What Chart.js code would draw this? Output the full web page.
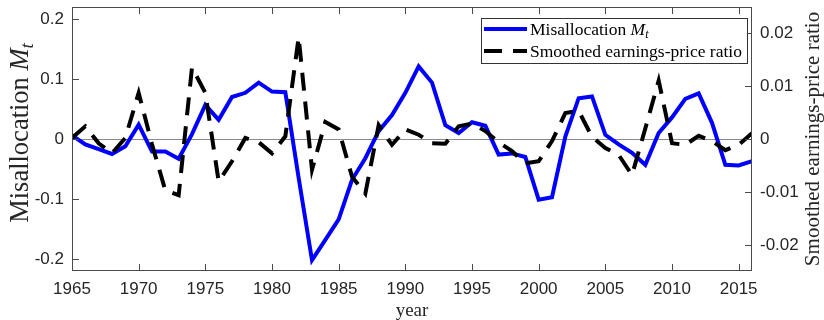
<!DOCTYPE html>
<html lang="en">
<head>
<meta charset="UTF-8">
<title>Misallocation and smoothed earnings-price ratio</title>
<script src="https://cdn.jsdelivr.net/npm/chart.js@4"></script>
<style>
  html, body { margin: 0; padding: 0; background: #fff; }
</style>
</head>
<body>
<canvas id="misChart" width="824" height="320"></canvas>

<script>
// annual series, 1965-2016
const years = [
  1965, 1966, 1967, 1968, 1969, 1970, 1971, 1972, 1973, 1974,
  1975, 1976, 1977, 1978, 1979, 1980, 1981, 1982, 1983, 1984,
  1985, 1986, 1987, 1988, 1989, 1990, 1991, 1992, 1993, 1994,
  1995, 1996, 1997, 1998, 1999, 2000, 2001, 2002, 2003, 2004,
  2005, 2006, 2007, 2008, 2009, 2010, 2011, 2012, 2013, 2014,
  2015, 2016
];

// misallocation M_t (left axis)
const misallocation = [
  0.006, -0.009, -0.017, -0.025, -0.012, 0.024, -0.021, -0.021, -0.033, 0.008,
  0.057, 0.032, 0.070, 0.077, 0.094, 0.079, 0.078, -0.065, -0.202, -0.168,
  -0.134, -0.068, -0.032, 0.013, 0.040, 0.077, 0.121, 0.094, 0.023, 0.010,
  0.028, 0.022, -0.026, -0.024, -0.030, -0.101, -0.097, 0.004, 0.068, 0.071,
  0.007, -0.009, -0.023, -0.043, 0.010, 0.036, 0.067, 0.076, 0.027, -0.043,
  -0.044, -0.037
];

// smoothed earnings-price ratio (right axis)
const epRatio = [
  0.0002, 0.0024, -0.0008, -0.0027, 0.0002, 0.0087, -0.0010, -0.0097, -0.0106, 0.0135,
  0.0087, -0.0080, -0.0042, 0.0002, -0.0006, -0.0027, 0.0005, 0.0192, -0.0058, 0.0032,
  0.0018, -0.0071, -0.0103, 0.0026, -0.0011, 0.0018, 0.0008, -0.0008, -0.0009, 0.0024,
  0.0029, 0.0015, -0.0006, -0.0023, -0.0046, -0.0042, -0.0004, 0.0049, 0.0053, 0.0004,
  -0.0017, -0.0030, -0.0068, 0.0020, 0.0110, -0.0008, -0.0011, 0.0006, -0.0004, -0.0021,
  -0.0011, 0.0011
];

const yearTicks = [1965, 1970, 1975, 1980, 1985, 1990, 1995, 2000, 2005, 2010, 2015];
const misTicks = [-0.2, -0.1, 0, 0.1, 0.2];
const epTicks = [-0.02, -0.01, 0, 0.01, 0.02];

const SANS = '"Liberation Sans", Arial, sans-serif';
const SERIF = '"Liberation Serif", "Times New Roman", serif';
const TEXT = '#262626';
const AXIS = '#4a4a4a';

// "Misallocation M_t" with italic M and subscript t
function mtParts(size) {
  return [
    { text: 'Misallocation ', font: size + 'px ' + SERIF, dy: 0 },
    { text: 'M', font: 'italic ' + size + 'px ' + SERIF, dy: 0 },
    { text: 't', font: 'italic ' + Math.round(size * 0.7) + 'px ' + SERIF, dy: size * 0.2 }
  ];
}

function drawParts(ctx, parts, x, y, align) {
  let total = 0;
  parts.forEach(p => { ctx.font = p.font; p.w = ctx.measureText(p.text).width; total += p.w; });
  let cx = align === 'center' ? x - total / 2 : x;
  ctx.textAlign = 'left';
  parts.forEach(p => { ctx.font = p.font; ctx.fillText(p.text, cx, y + p.dy); cx += p.w; });
}

const frame = {
  id: 'frame',
  beforeDatasetsDraw(chart) {
    const { ctx, chartArea: a, scales } = chart;
    const y0 = Math.round(scales.y.getPixelForValue(0)) + 0.5;
    ctx.save();
    ctx.strokeStyle = '#8a8a8a';
    ctx.lineWidth = 1;
    ctx.beginPath();
    ctx.moveTo(a.left, y0);
    ctx.lineTo(a.right, y0);
    ctx.stroke();
    ctx.restore();
  },
  afterDatasetsDraw(chart) {
    const { ctx, chartArea: a, scales } = chart;
    const tl = 7;
    ctx.save();
    ctx.strokeStyle = AXIS;
    ctx.lineWidth = 1;
    ctx.strokeRect(a.left + 0.5, a.top + 0.5, a.right - a.left - 1, a.bottom - a.top - 1);

    // inward tick marks
    ctx.beginPath();
    yearTicks.forEach(v => {
      const px = Math.round(scales.x.getPixelForValue(v)) + 0.5;
      ctx.moveTo(px, a.bottom); ctx.lineTo(px, a.bottom - tl);
      ctx.moveTo(px, a.top); ctx.lineTo(px, a.top + tl);
    });
    misTicks.forEach(v => {
      const py = Math.round(scales.y.getPixelForValue(v)) + 0.5;
      ctx.moveTo(a.left, py); ctx.lineTo(a.left + tl, py);
    });
    epTicks.forEach(v => {
      const py = Math.round(scales.y1.getPixelForValue(v)) + 0.5;
      ctx.moveTo(a.right, py); ctx.lineTo(a.right - tl, py);
    });
    ctx.stroke();

    // legend box
    const bw = 266, bh = 45;
    const bx = a.right - 5 - bw, by = a.top + 11;
    ctx.fillStyle = '#fff';
    ctx.fillRect(bx, by, bw, bh);
    ctx.strokeStyle = '#333';
    ctx.strokeRect(bx + 0.5, by + 0.5, bw, bh);

    const rows = [by + 11, by + 33];
    chart.data.datasets.forEach((ds, i) => {
      const ry = rows[i];
      ctx.beginPath();
      ctx.strokeStyle = ds.borderColor;
      ctx.lineWidth = ds.borderWidth;
      ctx.setLineDash(ds.borderDash || []);
      ctx.moveTo(bx + 3, ry);
      ctx.lineTo(bx + 46, ry);
      ctx.stroke();
      ctx.setLineDash([]);
      ctx.fillStyle = '#000';
      ctx.textBaseline = 'alphabetic';
      if (i === 0) {
        drawParts(ctx, mtParts(17.5), bx + 49, ry + 5.5, 'left');
      } else {
        ctx.font = '17.5px ' + SERIF;
        ctx.textAlign = 'left';
        ctx.fillText(ds.label, bx + 49, ry + 5.5);
      }
    });
    ctx.restore();
  },
  afterDraw(chart) {
    const { ctx, chartArea: a } = chart;
    ctx.save();
    ctx.fillStyle = TEXT;
    ctx.textBaseline = 'alphabetic';

    // x axis title
    ctx.font = '19px ' + SERIF;
    ctx.textAlign = 'center';
    ctx.fillText('year', (a.left + a.right) / 2, 316);

    // left axis title
    ctx.save();
    ctx.translate(28, 133);
    ctx.rotate(-Math.PI / 2);
    drawParts(ctx, mtParts(26.5), 0, 0, 'center');
    ctx.restore();

    // right axis title
    ctx.save();
    ctx.translate(819, 139);
    ctx.rotate(-Math.PI / 2);
    ctx.font = '21px ' + SERIF;
    ctx.textAlign = 'center';
    ctx.fillText('Smoothed earnings-price ratio', 0, 0);
    ctx.restore();

    ctx.restore();
  }
};

const tickFont = { family: SANS, size: 17 };

const chart = new Chart(document.getElementById('misChart'), {
  type: 'line',
  data: {
    datasets: [{
      label: 'Misallocation Mt',
      data: years.map((yr, i) => ({ x: yr, y: misallocation[i] })),
      yAxisID: 'y',
      borderColor: '#0000ff',
      borderWidth: 4,
      pointRadius: 0,
      tension: 0,
      order: 1
    }, {
      label: 'Smoothed earnings-price ratio',
      data: years.map((yr, i) => ({ x: yr, y: epRatio[i] })),
      yAxisID: 'y1',
      borderColor: '#000000',
      borderWidth: 4,
      borderDash: [18, 11],
      borderCapStyle: 'butt',
      pointRadius: 0,
      tension: 0,
      order: 0
    }]
  },
  options: {
    responsive: false,
    animation: false,
    layout: { padding: { top: 7, left: 0, right: 0, bottom: 0 } },
    plugins: {
      legend: { display: false },
      tooltip: { enabled: false }
    },
    scales: {
      x: {
        type: 'linear',
        min: 1965,
        max: 2016,
        grid: { display: false, drawTicks: false },
        border: { display: false },
        ticks: { font: tickFont, color: TEXT, padding: 8, maxRotation: 0, callback: v => String(v) },
        afterBuildTicks: s => { s.ticks = yearTicks.map(v => ({ value: v })); },
        afterFit: s => { s.height = 49; s.paddingLeft = 0; s.paddingRight = 0; }
      },
      y: {
        position: 'left',
        min: -0.22,
        max: 0.22,
        grid: { display: false, drawTicks: false },
        border: { display: false },
        ticks: { font: tickFont, color: TEXT, padding: 8, callback: v => String(+v.toFixed(2)) },
        afterBuildTicks: s => { s.ticks = misTicks.map(v => ({ value: v })); },
        afterFit: s => { s.width = 72; s.paddingTop = 0; s.paddingBottom = 0; }
      },
      y1: {
        position: 'right',
        min: -0.0249,
        max: 0.0249,
        grid: { display: false, drawTicks: false },
        border: { display: false },
        ticks: { font: tickFont, color: TEXT, padding: 8, callback: v => String(+v.toFixed(3)) },
        afterBuildTicks: s => { s.ticks = epTicks.map(v => ({ value: v })); },
        afterFit: s => { s.width = 72; s.paddingTop = 0; s.paddingBottom = 0; }
      }
    }
  },
  plugins: [frame]
});
</script>
</body>
</html>
